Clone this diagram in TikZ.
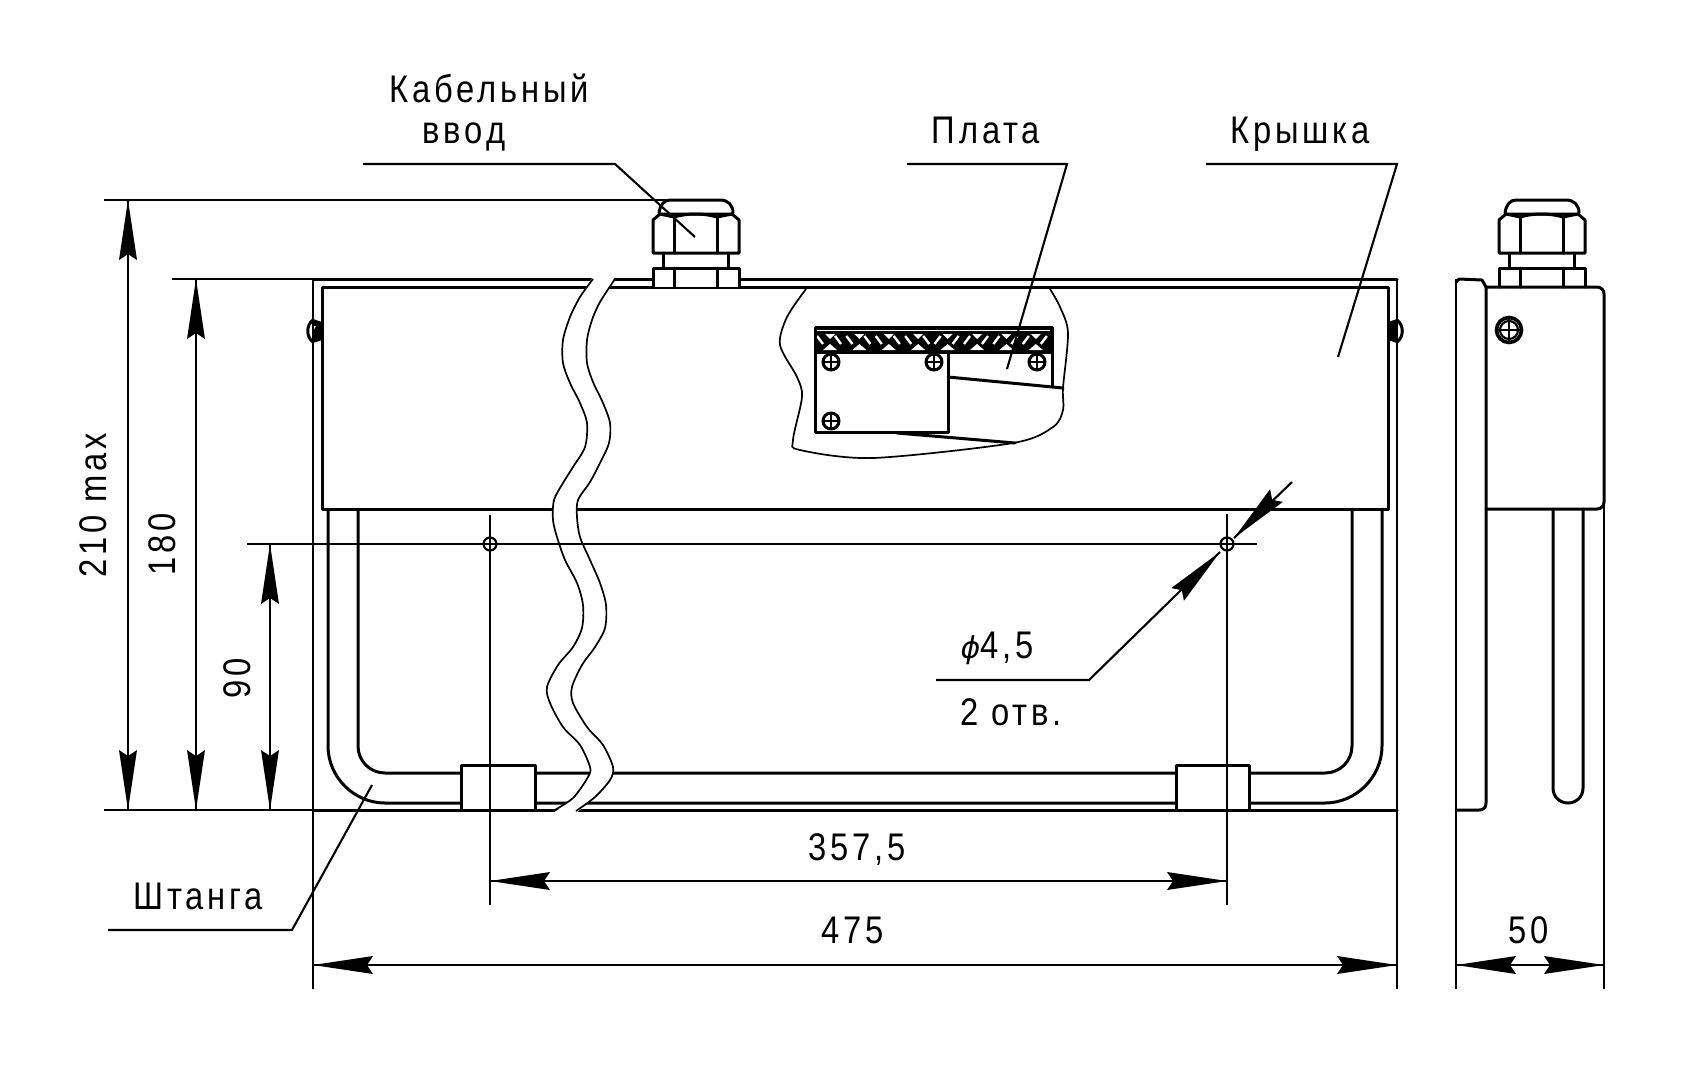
\documentclass[tikz,border=0pt]{standalone}
\usepackage{fontspec}
\setmainfont{Liberation Sans}
\newfontfamily\dimfont[FakeStretch=0.85,LetterSpace=10]{Liberation Sans}
\newfontfamily\phifont{DejaVu Sans}
\tikzset{
  objline/.style={line width=3pt,line join=round,line cap=round},
  dimline/.style={line width=2.1pt},
  thinline/.style={line width=1.7pt,line join=round},
  label/.style={font=\dimfont\fontsize{38.5}{41}\selectfont,inner sep=0pt,anchor=base,text=black},
  screwring/.style={line width=3pt,fill=white},
}
% arrowhead: tip at (#1), body in direction #2
\newcommand\dimtip[2]{\fill[black,shift={(#1)},rotate=#2] (0,0)--(60,-9)--(54,0)--(60,9)--cycle;}
\newcommand\crossscrew[1]{%
  \draw[screwring] (#1) circle (8);
  \draw[line width=2.2pt,shift={(#1)}] (-8,0)--(8,0) (0,-8)--(0,8);}
\newcommand\gland[1]{%
\begin{scope}[shift={(#1,0)}]
  \draw[objline] (659,213) .. controls (660,205) and (664,200) .. (670,200) -- (720,200) .. controls (728,200) and (733,205) .. (733,213);
  \draw[objline,fill=white] (653,253) -- (653,220) -- (660,214) -- (732,214) -- (739,220) -- (739,253) -- cycle;
  \draw[objline] (660,214) -- (674,217) .. controls (688,213) and (703,213) .. (717,217) -- (732,214);
  \draw[objline] (674,217) -- (674,253) (717,217) -- (717,253);
  \draw[objline] (663,253) -- (663,268) (728,253) -- (728,268);
  \draw[objline,fill=white] (653,287) -- (653,268) -- (739,268) -- (739,287);
  \draw[objline] (674,268) -- (674,287) (717,268) -- (717,287);
\end{scope}}
\begin{document}
\begin{tikzpicture}[x=1pt,y=-1pt]
\useasboundingbox (0,0) rectangle (1696,1074);
\fill[white] (0,0) rectangle (1696,1074);
% frame and lid
\draw[objline] (313,279) -- (1397,279) (313,810) -- (1397,810);
\draw[objline,fill=white] (322,287) rectangle (1388,509);
% rod
\draw[objline] (328,509) -- (328,746) .. controls (328,777) and (354,803) .. (385,803) -- (1325,803) .. controls (1356,803) and (1382,777) .. (1382,746) -- (1382,509);
\draw[objline] (358,509) -- (358,746) .. controls (358,761) and (370,773) .. (385,773) -- (1325,773) .. controls (1340,773) and (1352,761) .. (1352,746) -- (1352,509);
% clamps
\draw[objline,fill=white] (461,765) rectangle (535,810);
\draw[objline,fill=white] (1176,765) rectangle (1249,810);
% side screws of the main view
\draw[objline] (313,320) .. controls (306,325) and (306,337) .. (313,342);
\fill[black] (313,319) -- (322,322) -- (322,340) -- (313,343) -- cycle;
\fill[white] (316,326) -- (313,331) -- (313,326) -- cycle;
\draw[objline] (1397,320) .. controls (1404,325) and (1404,337) .. (1397,342);
\fill[black] (1397,319) -- (1388,322) -- (1388,340) -- (1397,343) -- cycle;
% cable gland, main view
\gland{0}
% break (white band across the lid)
\fill[white] plot[smooth] coordinates {(593,277)(580,297)(570,317)(563,340)(563,363)(570,383)(580,403)(587,423)(585,447)(573,467)(563,483)(554,500)(553,520)(557,537)(565,560)(577,583)(583,605)(582,628)(573,647)(558,665)(547,687)(550,703)(563,727)(580,745)(590,767)(588,777)(573,798)(553,813)}
 -- plot[smooth] coordinates {(576,813)(595,797)(610,780)(613,767)(603,745)(587,727)(573,703)(572,687)(582,665)(595,647)(605,628)(606,605)(600,583)(590,560)(580,537)(577,517)(578,500)(590,482)(600,463)(609,443)(610,423)(603,403)(593,382)(587,363)(587,340)(592,320)(600,302)(615,277)} -- cycle;
\draw[thinline] plot[smooth] coordinates {(593,279)(580,297)(570,317)(563,340)(563,363)(570,383)(580,403)(587,423)(585,447)(573,467)(563,483)(554,500)(553,520)(557,537)(565,560)(577,583)(583,605)(582,628)(573,647)(558,665)(547,687)(550,703)(563,727)(580,745)(590,767)(588,777)(573,798)(553,811)};
\draw[thinline] plot[smooth] coordinates {(576,811)(595,797)(610,780)(613,767)(603,745)(587,727)(573,703)(572,687)(582,665)(595,647)(605,628)(606,605)(600,583)(590,560)(580,537)(577,517)(578,500)(590,482)(600,463)(609,443)(610,423)(603,403)(593,382)(587,363)(587,340)(592,320)(600,302)(615,279)};
% cut-out with board
\draw[thinline] plot[smooth] coordinates {(806,289)(787,317)(780,345)(797,377)(802,397)(793,440)(800,450)(873,458)(1013,443)(1053,427)(1063,410)(1063,388)(1068,333)(1060,307)(1050,289)};
\fill[black] (815,327) rectangle (1052,352);
\draw[white,line width=1.2pt] (817,330.5) -- (1050,330.5);
\foreach \i in {0,...,7} {
  \pgfmathsetmacro\xc{830+29.4*\i}
  \fill[white] (\xc-5,334) -- (\xc+5,334) -- (\xc,339) -- cycle;
  \fill[white] (\xc-7,350) -- (\xc+7,350) -- (\xc,344) -- cycle;
}
\foreach \i in {0,...,3} {
  \pgfmathsetmacro\xc{830+29.4*\i}
  \draw[white,line width=2.4pt] (\xc-13,336) -- (\xc-7,344) (\xc+5,336) -- (\xc+11,344);
}
\foreach \i in {4,...,7} {
  \pgfmathsetmacro\xc{830+29.4*\i}
  \draw[white,line width=2.4pt] (\xc-7,336) -- (\xc-13,344) (\xc+11,336) -- (\xc+5,344);
}
\draw[objline] (815,327) rectangle (1052,352);
\draw[objline] (815,352) -- (815,432) -- (948,432) -- (948,352);
\draw[objline] (1052,352) -- (1052,387);
\draw[objline] (948,377) -- (1063,388);
\draw[objline] (897,433) -- (1015,443);
\crossscrew{831,362}
\crossscrew{934,362}
\crossscrew{1037,362}
\crossscrew{831,421}
% side view
\gland{846}
\draw[objline] (1486,287) -- (1482,280) -- (1459,279) -- (1456,282);
\draw[objline] (1486,287) -- (1486,803) .. controls (1486,808) and (1483,810) .. (1479,810) -- (1456,810);
\draw[objline] (1486,287) -- (1597,287) .. controls (1601,287) and (1604,290) .. (1604,294) -- (1604,502) .. controls (1604,506) and (1601,509) .. (1597,509) -- (1486,509);
\draw[objline] (1553,509) -- (1553,788) .. controls (1553,797) and (1560,803) .. (1568,803) .. controls (1576,803) and (1583,797) .. (1583,788) -- (1583,509);
\draw[line width=3.6pt] (1509,330) circle (12.5);
\draw[line width=2.2pt] (1509,330) circle (9);
\draw[line width=2.4pt] (1497,330) -- (1521,330) (1509,318) -- (1509,342);
% holes
\draw[line width=2.2pt] (490,544) circle (6.5);
\draw[line width=2.2pt] (1227,544) circle (6.5);
% extension lines
\draw[dimline] (104,200) -- (667,200);
\draw[dimline] (172,279) -- (313,279);
\draw[dimline] (247,544) -- (1257,544);
\draw[dimline] (104,810) -- (313,810);
\draw[dimline] (313,279) -- (313,989);
\draw[dimline] (1397,279) -- (1397,989);
\draw[dimline] (1456,279) -- (1456,989);
\draw[dimline] (1604,294) -- (1604,989);
\draw[dimline] (490,515) -- (490,905);
\draw[dimline] (1227,514) -- (1227,905);
% dimension lines
\draw[dimline] (128,200) -- (128,810);
\dimtip{128,200}{-90}\dimtip{128,810}{90}
\draw[dimline] (196,279) -- (196,810);
\dimtip{196,279}{-90}\dimtip{196,810}{90}
\draw[dimline] (270,544) -- (270,810);
\dimtip{270,544}{-90}\dimtip{270,810}{90}
\draw[dimline] (490,881) -- (1227,881);
\dimtip{490,881}{0}\dimtip{1227,881}{180}
\draw[dimline] (313,965) -- (1397,965);
\dimtip{313,965}{0}\dimtip{1397,965}{180}
\draw[dimline] (1456,965) -- (1604,965);
\dimtip{1456,965}{0}\dimtip{1604,965}{180}
% diameter arrows and leader
\draw[dimline] (936,680) -- (1089,680) -- (1220,552);
\dimtip{1220,552}{225}
\draw[dimline] (1234,538) -- (1292,482);
\dimtip{1234,538}{45}
% leaders
\draw[dimline] (363,164) -- (615,164) -- (695,237);
\draw[dimline] (907,164) -- (1067,164) -- (1007,369);
\draw[dimline] (1206,164) -- (1397,164) -- (1338,357);
\draw[dimline] (108,930) -- (292,930) -- (372,785);
% labels
\node[label] (cable1) at (489,102) {Кабельный};
\node[label] (cable2) at (464,143) {ввод};
\node[label] (board) at (986,143) {Плата};
\node[label] (cover) at (1300,143) {Крышка};
\node[label] (rodlabel) at (198,909) {Штанга};
\node[label,rotate=90] (d210) at (106,505) {210 max};
\node[label,rotate=90] (d180) at (175,544) {180};
\node[label,rotate=90] (d90) at (250,678) {90};
\node[label] (d3575) at (857,860) {357,5};
\node[label] (d475) at (853,943) {475};
\node[label] (d50) at (1529,943) {50};
\node[label] (dhole) at (997,658) {{\phifont\itshape\fontsize{30}{32}\selectfont ϕ}4,5};
\node[label] (dholes) at (1011,725) {2 отв.};
\end{tikzpicture}
\end{document}
